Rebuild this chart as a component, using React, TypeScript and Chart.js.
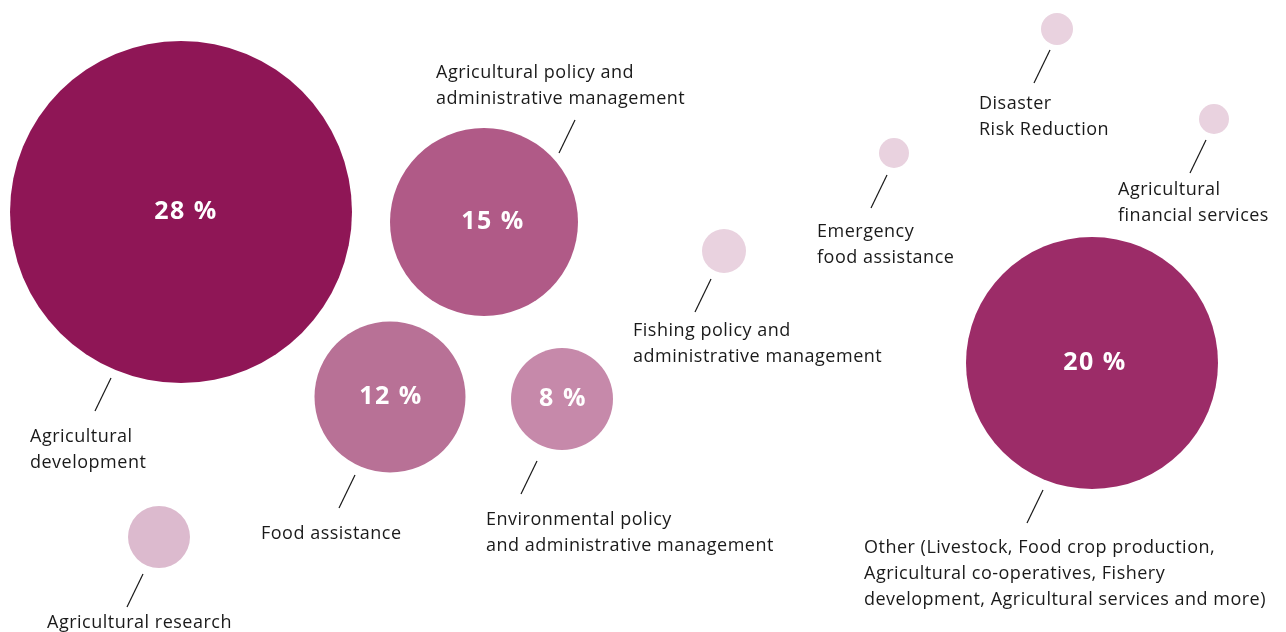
import React, { useEffect, useRef } from "react";
import { Chart, registerables } from "chart.js";

Chart.register(...registerables);

// ---- Data ----
const categories = [
  "Agricultural development",
  "Agricultural policy and administrative management",
  "Food assistance",
  "Environmental policy and administrative management",
  "Fishing policy and administrative management",
  "Emergency food assistance",
  "Disaster Risk Reduction",
  "Agricultural financial services",
  "Other (Livestock, Food crop production, Agricultural co-operatives, Fishery development, Agricultural services and more)",
  "Agricultural research",
];
const labelLines = [
  ["Agricultural", "development"],
  ["Agricultural policy and", "administrative management"],
  ["Food assistance"],
  ["Environmental policy", "and administrative management"],
  ["Fishing policy and", "administrative management"],
  ["Emergency", "food assistance"],
  ["Disaster", "Risk Reduction"],
  ["Agricultural", "financial services"],
  [
    "Other (Livestock, Food crop production,",
    "Agricultural co-operatives, Fishery",
    "development, Agricultural services and more)",
  ],
  ["Agricultural research"],
];
const shareLabels = ["28 %", "15 %", "12 %", "8 %", "", "", "", "", "20 %", ""];
const xValues = [181, 484, 390, 562, 724, 894, 1057, 1214, 1092, 159];
const yValues = [212, 222, 397, 399, 251, 153, 29, 119, 363, 537];
const radii = [171, 94, 75.5, 51, 22, 15, 16, 15, 126, 31];

// ---- Styles ----
const colors = [
  "#8f1656",
  "#b05a87",
  "#b87196",
  "#c689aa",
  "#e9d2df",
  "#e9d2df",
  "#e9d2df",
  "#e9d2df",
  "#9c2c68",
  "#dcbace",
];
const shareShiftX = [5, 9, 1, 1, 0, 0, 0, 0, 3, 0];
// leader line start offset from bubble centre, direction (1 = down-left, -1 = up-right), label offset from far end
const leaderStart = [
  [-70, 166], [75, -69], [-35, 78], [-25, 62], [-13, 28],
  [-7, 22], [-7, 21], [-8, 21], [-49, 127], [-16, 37],
];
const leaderDir = [1, -1, 1, 1, 1, 1, 1, 1, 1, 1];
const labelOffset = [
  [-65, 25], [-139, -48], [-78, 25], [-35, 25], [-62, 18],
  [-54, 23], [-55, 20], [-72, 16], [-163, 24], [-80, 15],
];
const LABEL_FONT = "18px 'Open Sans'";
const SHARE_FONT = "bold 25px 'Open Sans'";
const LINE_H = 26;

const annotations = {
  id: "bubbleAnnotations",
  afterDatasetsDraw(chart: any) {
    const ctx = chart.ctx;
    const meta = chart.getDatasetMeta(0);
    ctx.save();
    meta.data.forEach((el: any, i: number) => {
      const cx = el.x;
      const cy = el.y;
      if (shareLabels[i]) {
        ctx.font = SHARE_FONT;
        (ctx as any).letterSpacing = "1.5px";
        ctx.fillStyle = "#ffffff";
        ctx.textAlign = "center";
        ctx.textBaseline = "middle";
        ctx.fillText(shareLabels[i], cx + shareShiftX[i], cy);
      }
      const x1 = cx + leaderStart[i][0];
      const y1 = cy + leaderStart[i][1];
      const x2 = x1 - 16 * leaderDir[i];
      const y2 = y1 + 33 * leaderDir[i];
      ctx.strokeStyle = "#1a1a1a";
      ctx.lineWidth = 1.2;
      ctx.beginPath();
      ctx.moveTo(x1, y1);
      ctx.lineTo(x2, y2);
      ctx.stroke();
      ctx.font = LABEL_FONT;
      (ctx as any).letterSpacing = "0.5px";
      ctx.fillStyle = "#1a1a1a";
      ctx.textAlign = "left";
      ctx.textBaseline = "alphabetic";
      labelLines[i].forEach((line, k) => {
        ctx.fillText(line, x2 + labelOffset[i][0], y2 + labelOffset[i][1] + 6 + k * LINE_H);
      });
    });
    ctx.restore();
  },
};

export default function App() {
  const ref = useRef<HTMLCanvasElement>(null);
  useEffect(() => {
    document.body.style.margin = "0";
    const chart = new Chart(ref.current!, {
      type: "bubble",
      data: {
        labels: categories,
        datasets: [
          {
            label: "Share",
            data: xValues.map((x, i) => ({ x, y: yValues[i], r: radii[i] })),
            backgroundColor: colors,
            borderWidth: 0,
            hoverBorderWidth: 0,
            clip: false as any,
          },
        ],
      },
      options: {
        animation: false,
        responsive: false,
        layout: { padding: 0, autoPadding: false },
        scales: {
          x: { type: "linear", min: 0, max: 1286, display: false },
          y: { type: "linear", min: 0, max: 632, reverse: true, display: false },
        },
        plugins: { legend: { display: false }, tooltip: { enabled: false } },
      },
      plugins: [annotations],
    });
    return () => chart.destroy();
  }, []);
  return (
    <div style={{ width: 1286, height: 632, background: "#ffffff" }}>
      <canvas ref={ref} width={1286} height={632} style={{ display: "block" }} />
    </div>
  );
}
